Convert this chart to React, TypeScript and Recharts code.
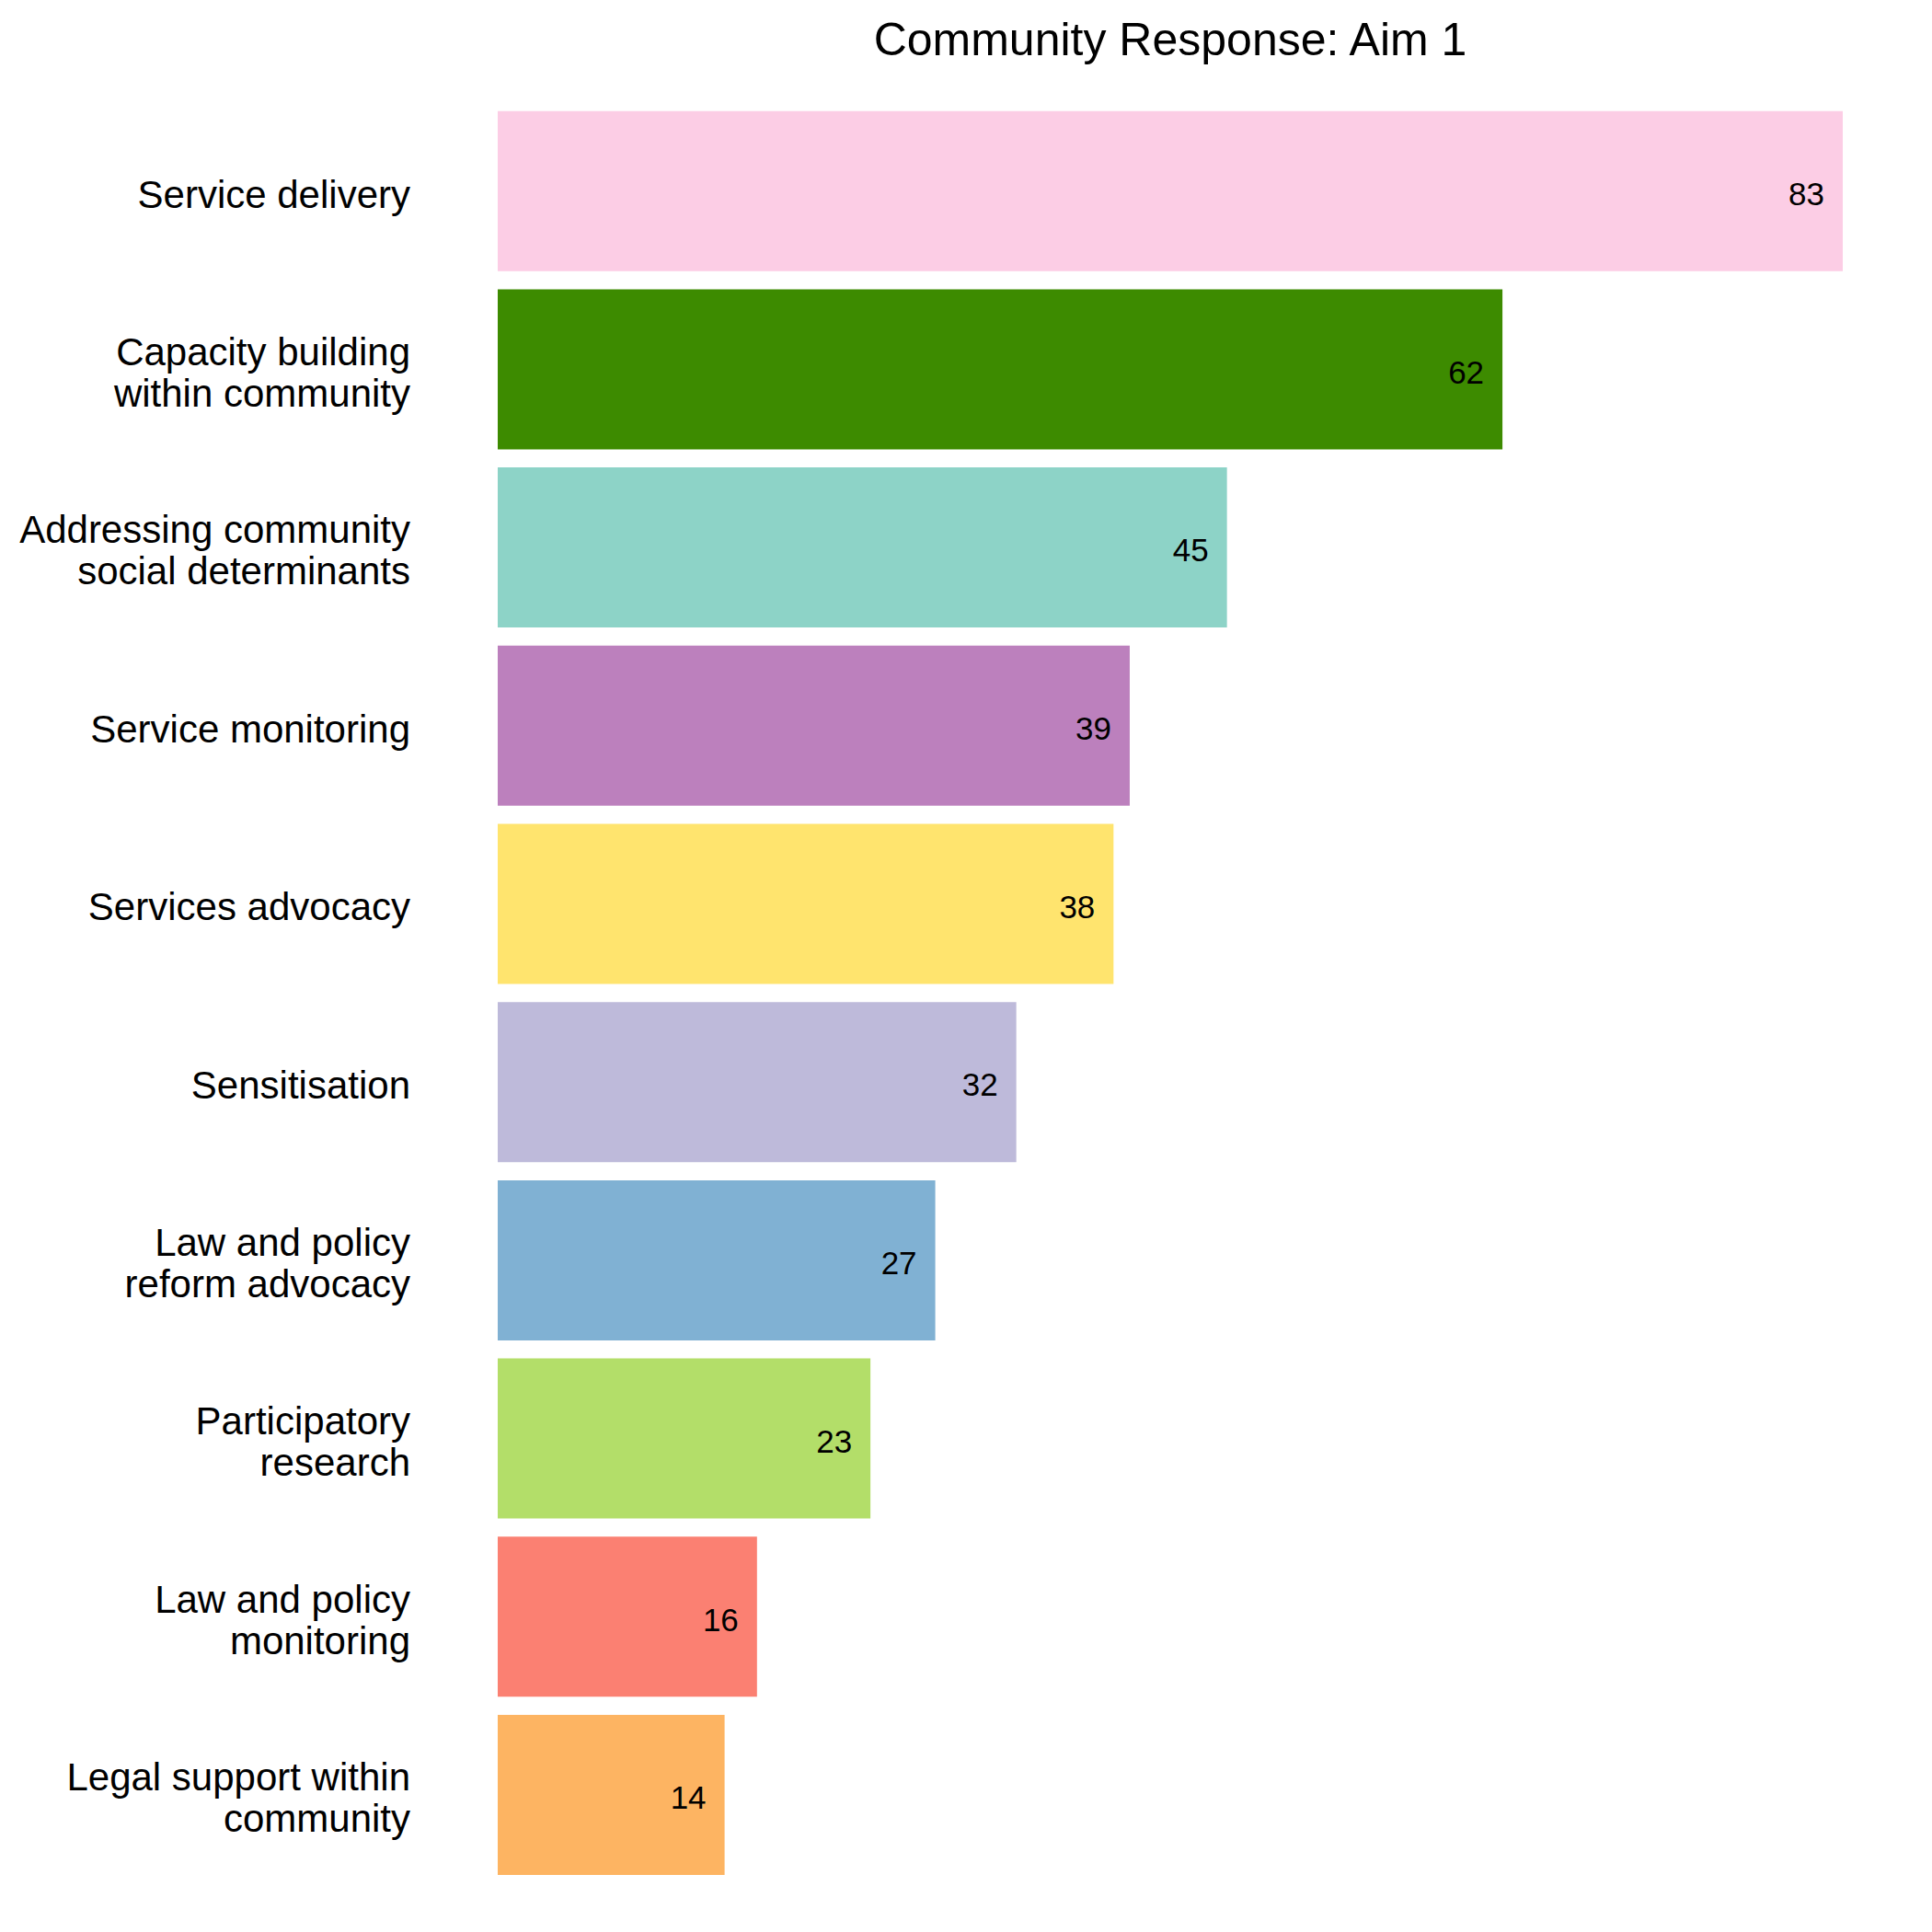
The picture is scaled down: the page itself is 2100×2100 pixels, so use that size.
import React from 'react';
import { BarChart, Bar, XAxis, YAxis, Cell, LabelList } from 'recharts';

const categories = [
  'Service delivery',
  'Capacity building\nwithin community',
  'Addressing community\nsocial determinants',
  'Service monitoring',
  'Services advocacy',
  'Sensitisation',
  'Law and policy\nreform advocacy',
  'Participatory\nresearch',
  'Law and policy\nmonitoring',
  'Legal support within\ncommunity',
];

const values = [83, 62, 45, 39, 38, 32, 27, 23, 16, 14];

const colors = [
  '#FCCDE5',
  '#3D8B00',
  '#8DD3C7',
  '#BC80BD',
  '#FFE46E',
  '#BEBADA',
  '#80B1D3',
  '#B3DE69',
  '#FB8072',
  '#FDB462',
];

const title = 'Community Response: Aim 1';

const data = categories.map((name, i) => ({ name, value: values[i] }));

const FONT = '"Liberation Sans", Arial, Helvetica, sans-serif';

const CategoryTick = (props: any) => {
  const { y, payload } = props;
  const lines = String(payload.value).split('\n');
  const lh = 45;
  const start = -((lines.length - 1) * lh) / 2 + 3;
  return (
    <text
      x={446}
      y={y}
      textAnchor="end"
      fontSize={42}
      fontFamily={FONT}
      fill="#000"
    >
      {lines.map((l, i) => (
        <tspan key={i} x={446} y={y + start + i * lh} dy="0.35em">
          {l}
        </tspan>
      ))}
    </text>
  );
};

const ValueLabel = (props: any) => {
  const { x, y, width, height, value } = props;
  return (
    <text
      x={x + width - 20}
      y={y + height / 2 + 3}
      dy="0.35em"
      textAnchor="end"
      fontSize={35}
      fontFamily={FONT}
      fill="#000"
    >
      {value}
    </text>
  );
};

export default function App() {
  return (
    <div
      style={{
        position: 'absolute',
        left: 0,
        top: 0,
        width: 2100,
        height: 2100,
        background: '#fff',
      }}
    >
      <div
        style={{
          position: 'absolute',
          left: 541,
          width: 1462,
          top: 18,
          textAlign: 'center',
          fontFamily: FONT,
          fontSize: 50,
          lineHeight: '50px',
          color: '#000',
          whiteSpace: 'nowrap',
        }}
      >
        {title}
      </div>
      <BarChart
        width={2100}
        height={2100}
        data={data}
        layout="vertical"
        margin={{ top: 111, right: 97, bottom: 52, left: 0 }}
        barCategoryGap="5%"
      >
        <XAxis type="number" domain={[0, 83]} hide />
        <YAxis
          type="category"
          dataKey="name"
          width={541}
          axisLine={false}
          tickLine={false}
          tick={<CategoryTick />}
          interval={0}
        />
        <Bar dataKey="value" isAnimationActive={false}>
          {data.map((d, i) => (
            <Cell key={d.name} fill={colors[i]} />
          ))}
          <LabelList dataKey="value" content={<ValueLabel />} />
        </Bar>
      </BarChart>
    </div>
  );
}
